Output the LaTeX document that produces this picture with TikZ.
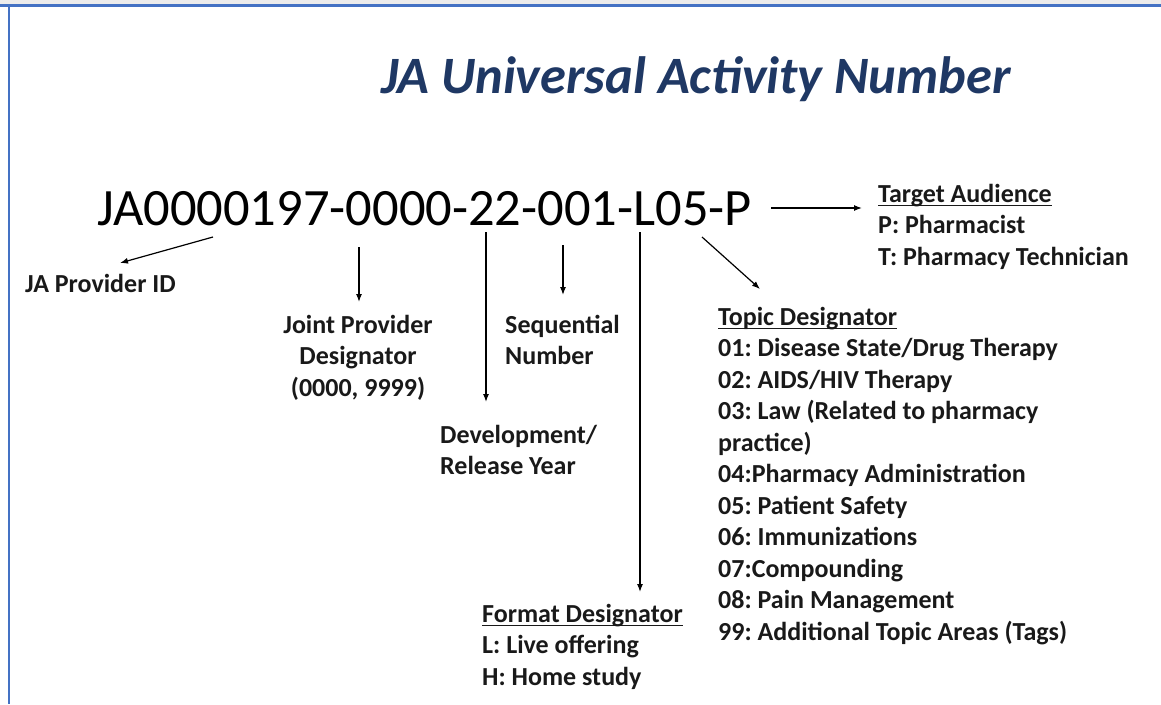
\documentclass[tikz,border=0pt]{standalone}
\usepackage{fontspec}
\setmainfont{Carlito}
\usepackage{xcolor}
\usetikzlibrary{arrows.meta, positioning, calc}
\definecolor{MainBlue}{RGB}{31,56,100}
\definecolor{FrameBlue}{RGB}{68,114,196}
\frenchspacing
% titoletto sottolineato
\newcommand{\hdline}[1]{\setbox0\hbox{#1}\rlap{\rule[-4pt]{\wd0}{1.5pt}}\box0}
\tikzset{
  >={Latex[length=8pt,width=6pt]},  % Frecce piccole piene
  % Testi
  title/.style={font=\fontsize{52.5}{63}\selectfont\bfseries\itshape,text=MainBlue,inner sep=0},
  code/.style={font=\fontsize{52.5}{63}\selectfont,inner sep=0},
  desc/.style={font=\fontsize{26}{31.5}\selectfont\bfseries,text=black!90,inner sep=0},
  % Connessioni
  connect arrow/.style={->,line width=1.2pt}
}

\begin{document}
\begin{tikzpicture}[x=1pt,y=-1pt]
    \useasboundingbox (0,0) rectangle (1161,704);
    % cornice
    \fill[gray!15] (0,0) rectangle (1161,4);
    \draw[FrameBlue,line width=2.5pt] (0,5.5) -- (1161,5.5);
    \draw[FrameBlue,line width=2.5pt] (9,5.5) -- (9,704);
    % titolo e codice
    \node[title,anchor=base west] (title) at (381,93) {JA Universal Activity Number};
    \node[code,anchor=base west] (num) at (97,225) {JA0000197-0000-22-001-L05-P};
    % etichette
    \node[desc,anchor=base west] (provider) at (25,292) {JA Provider ID};
    \node[desc,anchor=base] (joint) at (358,333) {\begin{tabular}[t]{@{}c@{}}Joint Provider\\Designator\\(0000, 9999)\end{tabular}};
    \node[desc,anchor=base west] (seq) at (505,333) {\begin{tabular}[t]{@{}l@{}}Sequential\\Number\end{tabular}};
    \node[desc,anchor=base west] (dev) at (440,443) {\begin{tabular}[t]{@{}l@{}}Development/\\Release Year\end{tabular}};
    \node[desc,anchor=base west] (format) at (482,622) {\begin{tabular}[t]{@{}l@{}}\hdline{Format Designator}\\L: Live offering\\H: Home study\end{tabular}};
    \node[desc,anchor=base west] (target) at (878,202) {\begin{tabular}[t]{@{}l@{}}\hdline{Target Audience}\\P: Pharmacist\\T: Pharmacy Technician\end{tabular}};
    \node[desc,anchor=base west] (topic) at (718,325) {\begin{tabular}[t]{@{}l@{}}\hdline{Topic Designator}\\
      01: Disease State/Drug Therapy\\02: AIDS/HIV Therapy\\
      03: Law (Related to pharmacy\\practice)\\04:Pharmacy Administration\\
      05: Patient Safety\\06: Immunizations\\07:Compounding\\
      08: Pain Management\\99: Additional Topic Areas (Tags)\end{tabular}};
    % frecce
    \coordinate (provider from) at (213,237);  \coordinate (provider to) at (120,263);
    \coordinate (joint from) at (359,247);     \coordinate (joint to) at (359,302);
    \coordinate (dev from) at (486,232);       \coordinate (dev to) at (486,402);
    \coordinate (seq from) at (563,245);       \coordinate (seq to) at (563,295);
    \coordinate (format from) at (640,232);    \coordinate (format to) at (640,592);
    \coordinate (topic from) at (702,237);     \coordinate (topic to) at (760,289);
    \coordinate (target from) at (771,208);    \coordinate (target to) at (862,208);
    \foreach \n in {provider,joint,dev,seq,format,topic,target}
      \draw[connect arrow] (\n\space from) -- (\n\space to);
\end{tikzpicture}
\end{document}
